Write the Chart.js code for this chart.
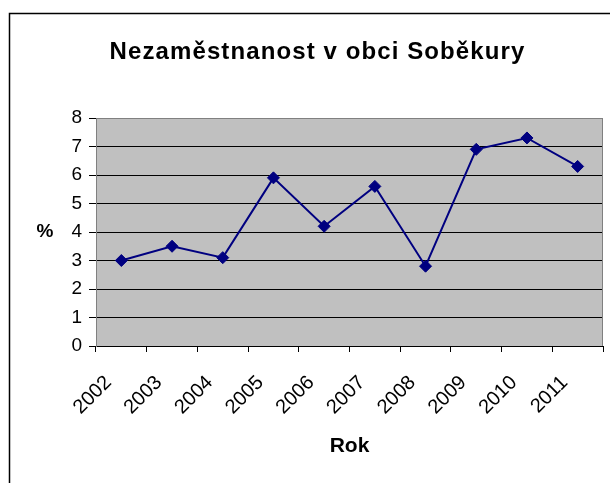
<!DOCTYPE html>
<html>
<head>
<meta charset="utf-8">
<script src="https://cdn.jsdelivr.net/npm/chart.js@4/dist/chart.umd.min.js"></script>
<style>
  html, body { margin: 0; padding: 0; background: #fff; }
  #wrap { width: 610px; height: 483px; }
</style>
</head>
<body>
<div id="wrap"><canvas id="c" width="610" height="483"></canvas></div>
<script>
const titleText = 'Nezaměstnanost v obci Soběkury';
const xAxisTitle = 'Rok';
const yAxisTitle = '%';
const years = ['2002', '2003', '2004', '2005', '2006', '2007', '2008', '2009', '2010', '2011'];
const unemployment = [3.0, 3.5, 3.1, 5.9, 4.2, 5.6, 2.8, 6.9, 7.3, 6.3];
const yTicks = [0, 1, 2, 3, 4, 5, 6, 7, 8];

const FONT = '"Liberation Sans", Arial, sans-serif';

const decor = {
  id: 'decor',
  afterLayout(chart) {
    const tb = chart.titleBlock;
    if (tb && !tb._spaced) {
      const orig = tb.draw.bind(tb);
      tb.draw = function () {
        const c = this.ctx;
        c.save();
        try { c.letterSpacing = '1.1px'; } catch (e) {}
        orig();
        c.restore();
      };
      tb._spaced = true;
    }
  },
  beforeDraw(chart) {
    const ctx = chart.ctx;
    const a = chart.chartArea;
    ctx.save();
    ctx.fillStyle = '#fff';
    ctx.fillRect(0, 0, chart.width, chart.height);
    ctx.fillStyle = '#C0C0C0';
    ctx.fillRect(a.left, a.top, a.right - a.left, a.bottom - a.top);
    ctx.restore();
  },
  afterDraw(chart) {
    const ctx = chart.ctx;
    const a = chart.chartArea;
    ctx.save();
    ctx.strokeStyle = '#808080';
    ctx.lineWidth = 1;
    ctx.beginPath();
    ctx.moveTo(Math.round(a.right) - 0.5, a.top);
    ctx.lineTo(Math.round(a.right) - 0.5, a.bottom);
    ctx.stroke();
    ctx.strokeStyle = '#000';
    ctx.lineWidth = 1.5;
    ctx.strokeRect(9.5, 13.5, 640, 520);
    ctx.fillStyle = '#000';
    ctx.font = 'bold 19px ' + FONT;
    ctx.textAlign = 'center';
    ctx.textBaseline = 'middle';
    ctx.fillText(yAxisTitle, 45, 232);
    ctx.restore();
  }
};

new Chart(document.getElementById('c'), {
  type: 'line',
  data: {
    labels: years,
    datasets: [{
      data: unemployment,
      borderColor: '#000080',
      backgroundColor: '#000080',
      borderWidth: 2,
      pointStyle: 'rectRot',
      pointRadius: 6,
      pointBorderWidth: 1,
      pointBackgroundColor: '#000080',
      pointBorderColor: '#000080',
      tension: 0,
      fill: false
    }]
  },
  options: {
    responsive: false,
    devicePixelRatio: 1,
    animation: false,
    layout: { padding: { left: 32, right: 7, top: 0, bottom: 0 } },
    plugins: {
      legend: { display: false },
      tooltip: { enabled: false },
      title: {
        display: true,
        text: titleText,
        color: '#000',
        font: { family: FONT, size: 24, weight: 'bold' },
        padding: { top: 37.6, bottom: 51.6 }
      }
    },
    scales: {
      x: {
        offset: true,
        grid: {
          offset: true,
          drawOnChartArea: false,
          drawTicks: true,
          tickLength: 6,
          color: '#000',
          tickColor: '#000'
        },
        border: { display: true, color: '#000', width: 1 },
        ticks: {
          color: '#000',
          font: { family: FONT, size: 20 },
          minRotation: 45,
          maxRotation: 45,
          padding: 19,
          labelOffset: -13,
          autoSkip: false
        },
        title: {
          display: true,
          text: xAxisTitle,
          color: '#000',
          font: { family: FONT, size: 21, weight: 'bold' },
          padding: { top: 0, bottom: 24 }
        },
        afterFit(s) { s.height = 137; s.paddingLeft = 0; s.paddingRight = 0; }
      },
      y: {
        min: 0,
        max: 8,
        afterBuildTicks(s) { s.ticks = yTicks.map(v => ({ value: v })); },
        grid: {
          color: (c) => (c.tick && c.tick.value === 8 ? '#808080' : '#000'),
          tickColor: '#000',
          lineWidth: 1,
          drawTicks: true,
          tickLength: 7
        },
        border: { display: true, color: '#808080', width: 1 },
        ticks: {
          color: '#000',
          font: { family: FONT, size: 19 },
          padding: 7
        },
        afterFit(s) { s.width = 64; }
      }
    }
  },
  plugins: [decor]
});
</script>
</body>
</html>
